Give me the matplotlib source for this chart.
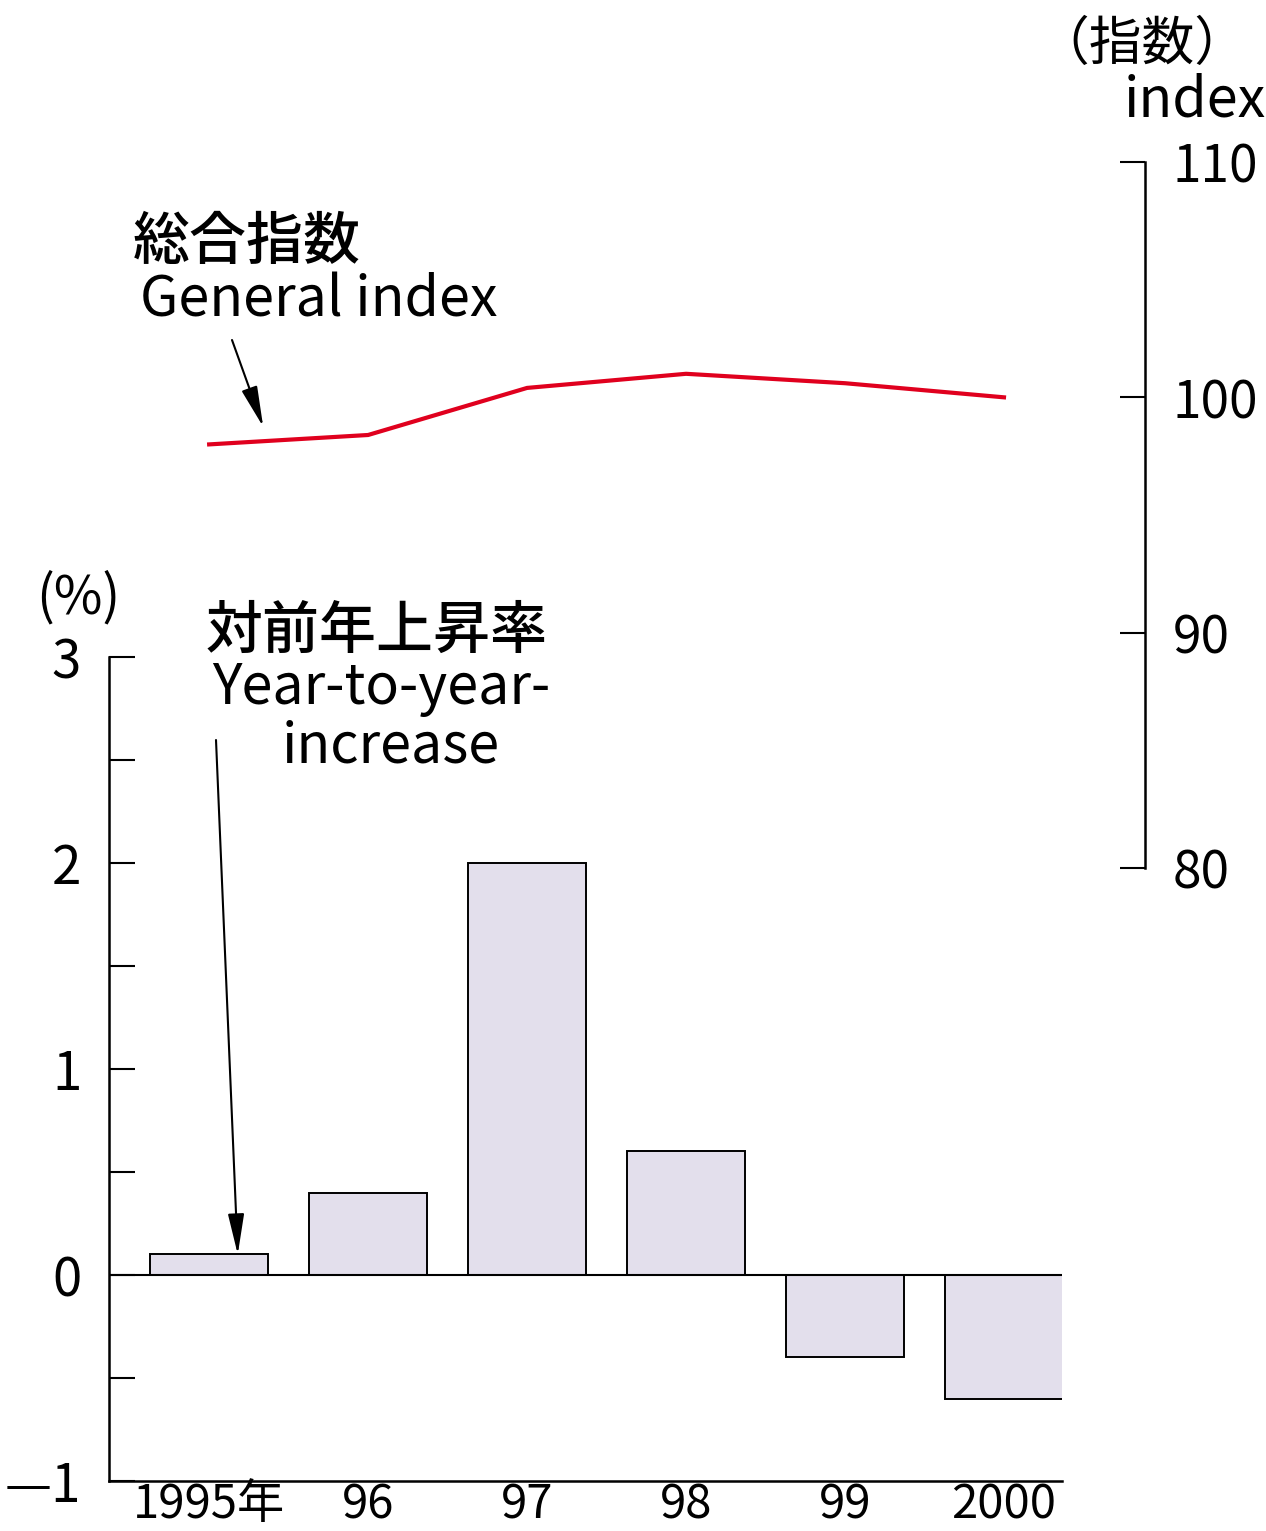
import matplotlib
matplotlib.use("Agg")
import matplotlib.pyplot as plt

years = ["1995年", "96", "97", "98", "99", "2000"]
increase = [0.1, 0.4, 2.0, 0.6, -0.4, -0.6]
general_index = [98.0, 98.4, 100.4, 101.0, 100.6, 100.0]

left_ticks = [3, 2, 1, 0, -1]
left_labels = ["3", "2", "1", "0", "—1"]
left_minor = [2.5, 1.5, 0.5, -0.5]
right_ticks = [80, 90, 100, 110]
right_labels = ["80", "90", "100", "110"]

W, H = 1266, 1531

plt.rcParams["font.family"] = ["Noto Sans CJK JP", "DejaVu Sans"]

bar_color = "#e3dfec"
line_color = "#e0001e"


def fx(x):
    return x / W


def fy(y):
    return 1 - y / H


fig = plt.figure(figsize=(W / 100, H / 100), dpi=100)

# bar panel
ax = fig.add_axes([fx(109), fy(1481), (1062 - 109) / W, (1481 - 657) / H])
x = list(range(len(years)))
ax.bar(x, increase, width=0.74, color=bar_color, edgecolor="black",
       linewidth=1.4, zorder=2)
ax.axhline(0, color="black", lw=1.5, zorder=3)

x0, x1 = -0.63, 5.365
ax.set_xlim(x0, x1)
ax.set_ylim(-1, 3)
ax.set_yticks(left_ticks)
ax.set_yticklabels(left_labels)
ax.set_yticks(left_minor, minor=True)
ax.tick_params(axis="y", which="both", direction="in", length=19,
               width=1.5, labelsize=38, pad=20)
ax.set_xticks(x)
ax.set_xticklabels(years)
ax.tick_params(axis="x", length=0, labelsize=34, pad=0)
for s in ["top", "right"]:
    ax.spines[s].set_visible(False)
for s in ["left", "bottom"]:
    ax.spines[s].set_linewidth(1.8)
ax.patch.set_alpha(0)

# index line panel, same x scale
per_px = (x1 - x0) / (1062 - 109)
ax2 = fig.add_axes([fx(109), fy(868), (1145 - 109) / W, (868 - 162) / H])
ax2.plot(x, general_index, color=line_color, lw=3)
ax2.set_xlim(x0, x0 + per_px * (1145 - 109))
ax2.set_ylim(80, 110)
ax2.yaxis.tick_right()
ax2.set_yticks(right_ticks)
ax2.set_yticklabels(right_labels)
ax2.tick_params(axis="y", direction="in", length=18, width=1.5,
                labelsize=37, pad=20)
ax2.set_xticks([])
for s in ["top", "left", "bottom"]:
    ax2.spines[s].set_visible(False)
ax2.spines["right"].set_linewidth(1.8)
ax2.patch.set_alpha(0)

# labels
fig.text(fx(1142), fy(44), "（指数）", fontsize=38, ha="center", va="center")
fig.text(fx(1195), fy(101), "index", fontsize=40, ha="center", va="center")
fig.text(fx(78), fy(598), "(%)", fontsize=38, ha="center", va="center")

fig.text(fx(133), fy(243), "総合指数", fontsize=41, ha="left", va="center",
         fontweight="medium")
fig.text(fx(140), fy(301), "General index", fontsize=40, ha="left", va="center")
fig.text(fx(206), fy(632), "対前年上昇率", fontsize=41, ha="left", va="center",
         fontweight="medium")
fig.text(fx(212), fy(688), "Year-to-year-", fontsize=40, ha="left", va="center")
fig.text(fx(282), fy(747), "increase", fontsize=40, ha="left", va="center")

arrow = dict(arrowstyle="-|>,head_length=1.25,head_width=0.25",
             color="black", lw=1.5, mutation_scale=20, shrinkA=0, shrinkB=0)
ax2.annotate("", xy=(0.34, 98.75), xycoords="data",
             xytext=(232, H - 340), textcoords="figure pixels",
             arrowprops=arrow)
ax.annotate("", xy=(0.18, 0.1), xycoords="data",
            xytext=(216, H - 740), textcoords="figure pixels",
            arrowprops=arrow)

fig.savefig("out.png", dpi=100)
